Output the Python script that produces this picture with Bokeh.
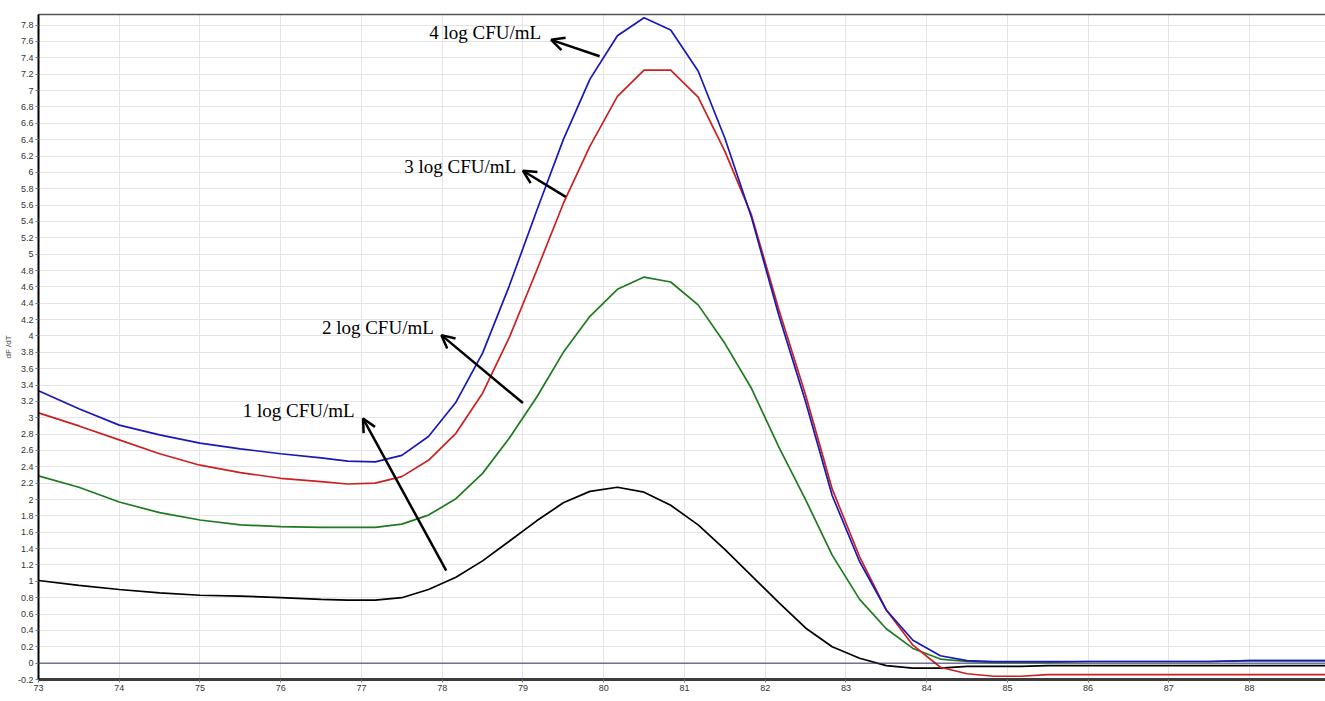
from bokeh.plotting import figure
from bokeh.models import (FixedTicker, CustomJSTickFormatter, Span, Label, Arrow,
                          OpenHead, LinearAxis, Range1d)
from bokeh.embed import file_html
from bokeh.resources import INLINE

# ---------------- data ----------------
temperature = [73.0, 73.5, 74.0, 74.5, 75.0, 75.5, 76.0, 76.5, 76.83, 77.17,
               77.5, 77.83, 78.17, 78.5, 78.83, 79.17, 79.5, 79.83, 80.17, 80.5,
               80.83, 81.17, 81.5, 81.83, 82.17, 82.5, 82.83, 83.17, 83.5, 83.83,
               84.17, 84.5, 84.83, 85.17, 85.5, 86.0, 86.5, 87.0, 87.5, 88.0,
               88.5, 89.0]

log4 = [3.33, 3.11, 2.91, 2.79, 2.69, 2.62, 2.56, 2.51, 2.47, 2.46,
        2.54, 2.77, 3.19, 3.79, 4.61, 5.53, 6.40, 7.14, 7.67, 7.89,
        7.74, 7.24, 6.42, 5.45, 4.25, 3.20, 2.05, 1.24, 0.65, 0.28,
        0.09, 0.03, 0.02, 0.02, 0.02, 0.02, 0.02, 0.02, 0.02, 0.03,
        0.03, 0.03]

log3 = [3.06, 2.90, 2.73, 2.56, 2.42, 2.33, 2.26, 2.22, 2.19, 2.20,
        2.28, 2.48, 2.81, 3.30, 3.98, 4.80, 5.62, 6.32, 6.93, 7.25,
        7.25, 6.92, 6.26, 5.48, 4.32, 3.28, 2.13, 1.30, 0.65, 0.22,
        -0.05, -0.13, -0.16, -0.16, -0.14, -0.14, -0.14, -0.14, -0.14, -0.14,
        -0.14, -0.14]

log2 = [2.29, 2.15, 1.97, 1.84, 1.75, 1.69, 1.67, 1.66, 1.66, 1.66,
        1.70, 1.81, 2.01, 2.32, 2.75, 3.25, 3.80, 4.24, 4.57, 4.72,
        4.66, 4.38, 3.91, 3.36, 2.64, 2.00, 1.32, 0.78, 0.42, 0.18,
        0.05, 0.02, 0.01, 0.01, 0.01, 0.02, 0.02, 0.02, 0.02, 0.03,
        0.03, 0.03]

log1 = [1.01, 0.95, 0.90, 0.86, 0.83, 0.82, 0.80, 0.78, 0.77, 0.77,
        0.80, 0.90, 1.05, 1.25, 1.49, 1.74, 1.96, 2.10, 2.15, 2.09,
        1.93, 1.69, 1.39, 1.07, 0.74, 0.43, 0.20, 0.06, -0.03, -0.06,
        -0.06, -0.04, -0.04, -0.04, -0.03, -0.03, -0.03, -0.03, -0.03, -0.03,
        -0.03, -0.03]

x_ticks = list(range(73, 89))
y_ticks = [round(-0.2 + 0.2 * i, 1) for i in range(41)]

series_names = ["1 log CFU/mL", "2 log CFU/mL", "3 log CFU/mL", "4 log CFU/mL"]
series_values = [log1, log2, log3, log4]
series_colors = ["#000000", "#1f7a1f", "#cc2020", "#1818b8"]

# annotation placement (text anchor, arrow tail -> head), in data coordinates
label_pos = [(75.53, 3.09), (76.51, 4.10), (77.53, 6.07), (77.84, 7.71)]
arrow_pos = [(78.05, 1.13, 77.02, 2.99), (79.0, 3.18, 77.99, 4.01),
             (79.53, 5.70, 79.0, 6.02), (79.95, 7.42, 79.35, 7.62)]

# ---------------- figure ----------------
p = figure(width=1325, height=701, output_backend="svg", toolbar_location=None,
           x_range=Range1d(73, 88.94), y_range=Range1d(-0.2, 7.93),
           min_border_left=37, min_border_top=14, min_border_right=0,
           min_border_bottom=22, outline_line_color=None,
           background_fill_color="white", border_fill_color="white")

for vals, col in zip(series_values, series_colors):
    p.line(temperature, vals, line_color=col, line_width=1.7)

p.add_layout(Span(location=0, dimension="width", line_color="#33336e", line_width=1))

tick_fmt = CustomJSTickFormatter(code="return tick.toFixed(1).replace(/\\.0$/, '');")

p.xaxis.ticker = FixedTicker(ticks=x_ticks)
p.yaxis.ticker = FixedTicker(ticks=y_ticks)
p.yaxis.formatter = tick_fmt
p.yaxis.axis_label = "dF /dT"
p.yaxis.axis_label_text_font = "Liberation Sans"
p.yaxis.axis_label_text_font_size = "8px"
p.yaxis.axis_label_text_font_style = "normal"
p.yaxis.axis_label_standoff = 2
p.yaxis.axis_line_color = "black"
p.yaxis.axis_line_width = 2

p.xaxis.axis_line_color = "#3c3c3c"
p.xaxis.axis_line_width = 3

for ax in (p.xaxis, p.yaxis):
    ax.major_label_text_font = "Liberation Sans"
    ax.major_label_text_font_size = "9px"
    ax.major_label_text_color = "#333333"
    ax.major_tick_line_color = "#777777"
    ax.major_tick_out = 3
    ax.major_tick_in = 0
    ax.minor_tick_line_color = None
    ax.major_label_standoff = 2

p.xgrid.ticker = FixedTicker(ticks=x_ticks)
p.ygrid.ticker = FixedTicker(ticks=y_ticks)
p.xgrid.grid_line_color = "#e4e4e4"
p.ygrid.grid_line_color = "#e4e4e4"

top_axis = LinearAxis(axis_line_color="#555555", axis_line_width=1.5,
                      major_tick_line_color=None, minor_tick_line_color=None,
                      major_label_text_font_size="0px", major_label_standoff=0)
top_axis.ticker = FixedTicker(ticks=[])
p.add_layout(top_axis, "above")

for name, (lx, ly) in zip(series_names, label_pos):
    p.add_layout(Label(x=lx, y=ly, text=name, text_font="Liberation Serif",
                       text_font_size="19px", text_color="black",
                       text_baseline="middle", text_align="left"))

for (xs, ys, xe, ye) in arrow_pos:
    p.add_layout(Arrow(x_start=xs, y_start=ys, x_end=xe, y_end=ye,
                       line_color="black", line_width=2.5,
                       end=OpenHead(size=13, line_width=2.5, line_color="black")))

p.add_layout(Label(x=81, y=-0.2, y_offset=-14, text="°C", text_font="Liberation Sans",
                   text_font_size="8px", text_color="#333333", text_align="center",
                   text_baseline="top"))

open("out.html", "w").write(file_html(p, INLINE))
